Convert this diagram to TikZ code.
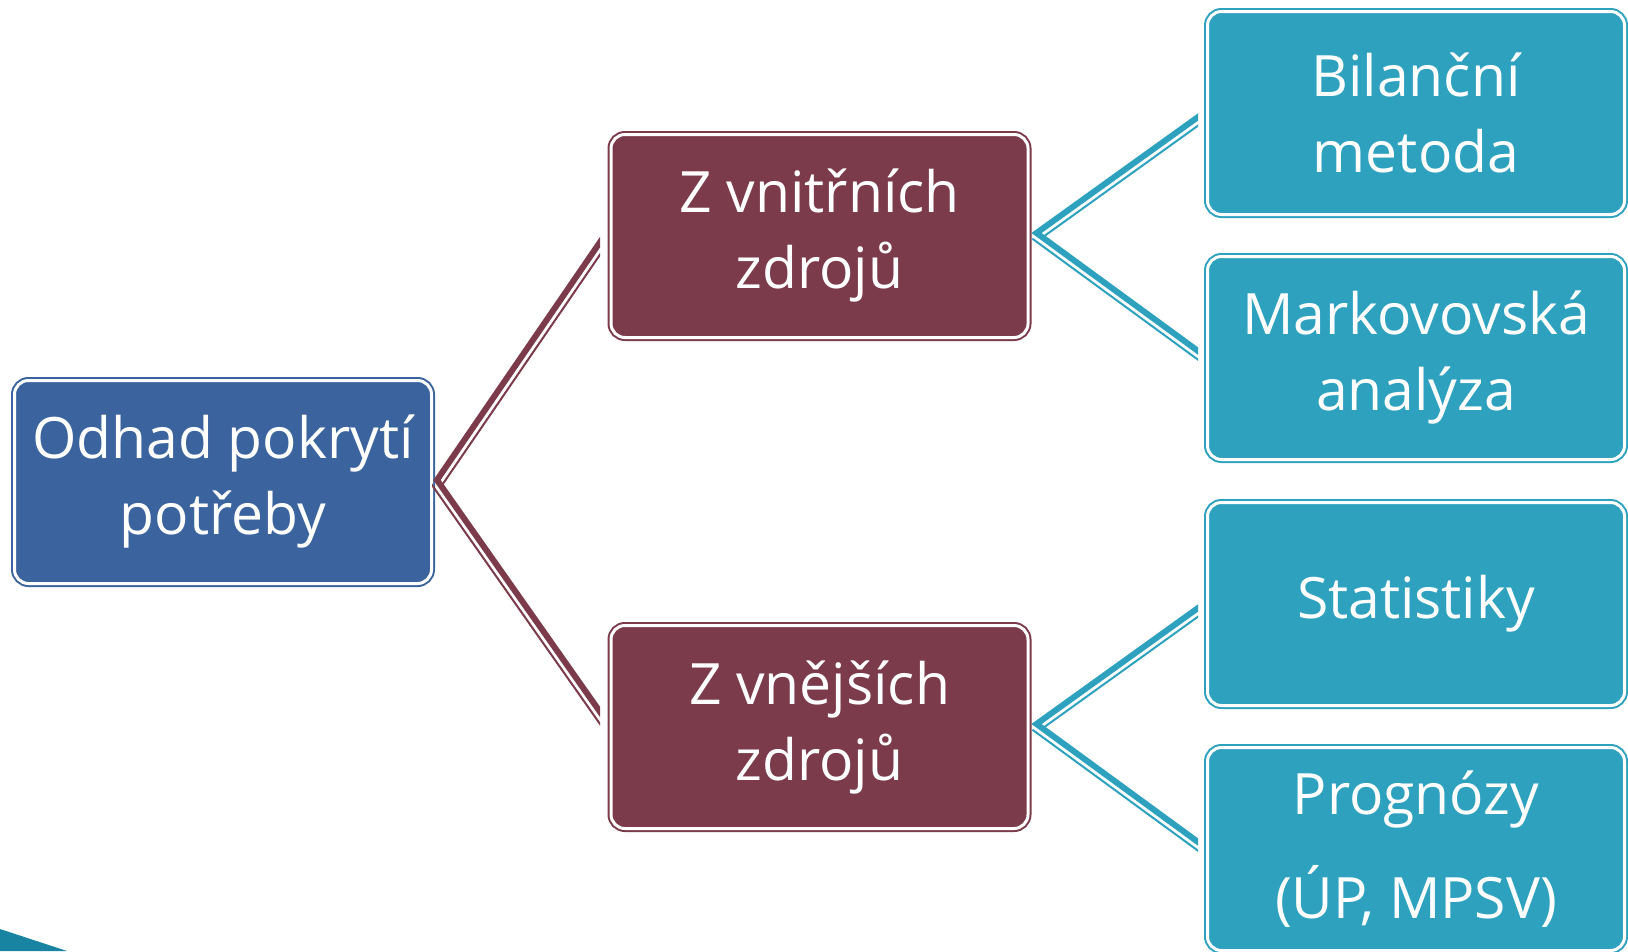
\documentclass[tikz,border=0pt]{standalone}
\usepackage{fontspec}
\setmainfont{Open Sans}
\usetikzlibrary{calc}
\definecolor{cblue}{RGB}{59,100,158}
\definecolor{cmaroon}{RGB}{123,59,74}
\definecolor{cteal}{RGB}{46,161,191}
\definecolor{cdeco}{RGB}{24,132,162}
\tikzset{
  box/.style={rounded corners=14pt, minimum width=417pt, minimum height=203pt,
    fill=#1, draw=white, line width=3pt, preaction={draw=#1, line width=7pt},
    text=white, align=center, inner sep=0pt,
    font=\fontsize{57}{76}\selectfont},
  thickline/.style={line width=6pt, line join=miter},
  thinline/.style={line width=2pt},
}
\begin{document}
\begin{tikzpicture}[x=1pt,y=-1pt]
\useasboundingbox (0,0) rectangle (1628,951);
\clip (0,0) rectangle (1628,951);
\fill[cdeco] (0,929) -- (67,951) -- (0,951) -- cycle;

\node[box=cblue] (root) at (223,482) {Odhad pokrytí\\potřeby};
\node[box=cmaroon] (m1) at (819.5,236) {Z vnitřních\\zdrojů};
\node[box=cmaroon] (m2) at (819.5,727) {Z vnějších\\zdrojů};
\node[box=cteal] (r1) at (1416,113) {Bilanční\\metoda};
\node[box=cteal] (r2) at (1416,358) {Markovovská\\analýza};
\node[box=cteal] (r3) at (1416,604) {Statistiky};
\node[box=cteal] (r4) at (1416,849) {Prognózy\\[28pt](ÚP, MPSV)};

% connector apexes and free ends
\coordinate (p0) at ($(root.east)+(4,-2)$);
\coordinate (q1) at ($(m1.west)+(-8,4)$);
\coordinate (q2) at ($(m2.west)+(-8,-13)$);
\coordinate (p1) at ($(m1.east)+(7,-3)$);
\coordinate (s1) at ($(r1.west)+(-8,4)$);
\coordinate (s2) at ($(r2.west)+(-8,-7)$);
\coordinate (p2) at ($(m2.east)+(7,-3)$);
\coordinate (s3) at ($(r3.west)+(-8,4)$);
\coordinate (s4) at ($(r4.west)+(-8,-7)$);

\begin{scope}
  \clip (432,0) rectangle (600,951);
  \draw[cmaroon, thickline] ($(p0)!1.2!(q1)$) -- (p0) -- ($(p0)!1.2!(q2)$);
  \draw[cmaroon, thinline] ($(p0)+(5.8,4)$) -- ($(p0)!1.2!(q1)+(5.8,4)$);
  \draw[cmaroon, thinline] ($(p0)+(-5.7,4)$) -- ($(p0)!1.2!(q2)+(-5.7,4)$);
\end{scope}
\begin{scope}
  \clip (1030,0) rectangle (1198,951);
  \draw[cteal, thickline] ($(p1)!1.2!(s1)$) -- (p1) -- ($(p1)!1.2!(s2)$);
  \draw[cteal, thinline] ($(p1)+(4.1,5.7)$) -- ($(p1)!1.2!(s1)+(4.1,5.7)$);
  \draw[cteal, thinline] ($(p1)+(-4.1,5.7)$) -- ($(p1)!1.2!(s2)+(-4.1,5.7)$);
  \draw[cteal, thickline] ($(p2)!1.2!(s3)$) -- (p2) -- ($(p2)!1.2!(s4)$);
  \draw[cteal, thinline] ($(p2)+(4.1,5.7)$) -- ($(p2)!1.2!(s3)+(4.1,5.7)$);
  \draw[cteal, thinline] ($(p2)+(-4.1,5.7)$) -- ($(p2)!1.2!(s4)+(-4.1,5.7)$);
\end{scope}
\end{tikzpicture}
\end{document}
